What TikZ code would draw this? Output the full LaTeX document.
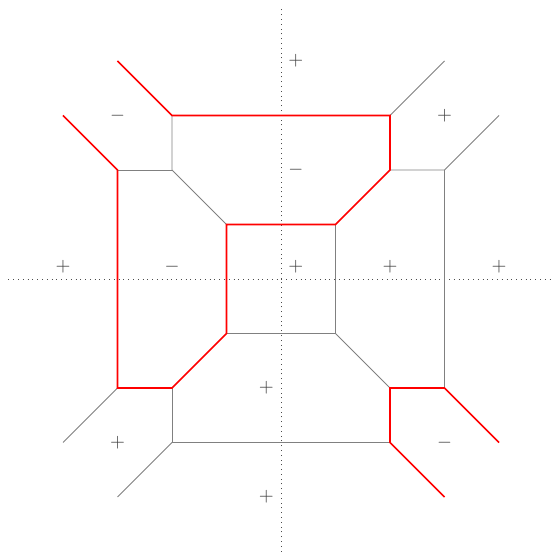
\documentclass[tikz,border=0pt]{standalone}
\usepackage{tikz}
\usetikzlibrary{positioning}

\begin{document}
\begin{tikzpicture}[
    rood/.style={draw=red, line width=0.9pt},
    grijs/.style={draw=gray, line width=0.5pt},
    as/.style={draw=black!70, dotted, line width=0.5pt},
    teken/.style={text=black!75, inner sep=0pt}
  ]
    \useasboundingbox (-5.156,-5.046) rectangle (4.954,5.119);
    \draw[as] (-5,0) -- (5,0);
    \draw[as] (0,-5) -- (0,5);
    % grijze lijnen
    \draw[grijs] (-2,3) -- (-2,2) -- (-1,1);
    \draw[grijs] (-3,2) -- (-2,2);
    \draw[grijs] (2,3) -- (3,4);
    \draw[grijs] (2,2) -- (3,2) -- (4,3);
    \draw[grijs] (3,2) -- (3,-2);
    \draw[grijs] (1,1) -- (1,-1) -- (-1,-1);
    \draw[grijs] (1,-1) -- (2,-2);
    \draw[grijs] (2,-3) -- (-2,-3) -- (-2,-2);
    \draw[grijs] (-2,-3) -- (-3,-4);
    \draw[grijs] (-3,-2) -- (-4,-3);
    % rode lijnen
    \draw[rood] (-3,4) -- (-2,3) -- (2,3) -- (2,2) -- (1,1) -- (-1,1)
      -- (-1,-1) -- (-2,-2) -- (-3,-2) -- (-3,2) -- (-4,3);
    \draw[rood] (4,-3) -- (3,-2) -- (2,-2) -- (2,-3) -- (3,-4);
    % tekens
    \node[teken] at (0.27,4)     {$+$};
    \node[teken] at (-3,3)       {$-$};
    \node[teken] at (3,3)        {$+$};
    \node[teken] at (0.27,2)     {$-$};
    \node[teken] at (-4,0.22)    {$+$};
    \node[teken] at (-2,0.22)    {$-$};
    \node[teken] at (0.27,0.22)  {$+$};
    \node[teken] at (2,0.22)     {$+$};
    \node[teken] at (4,0.22)     {$+$};
    \node[teken] at (-0.27,-2)   {$+$};
    \node[teken] at (-3,-3)      {$+$};
    \node[teken] at (3,-3)       {$-$};
    \node[teken] at (-0.27,-4)   {$+$};
  \end{tikzpicture}
\end{document}
